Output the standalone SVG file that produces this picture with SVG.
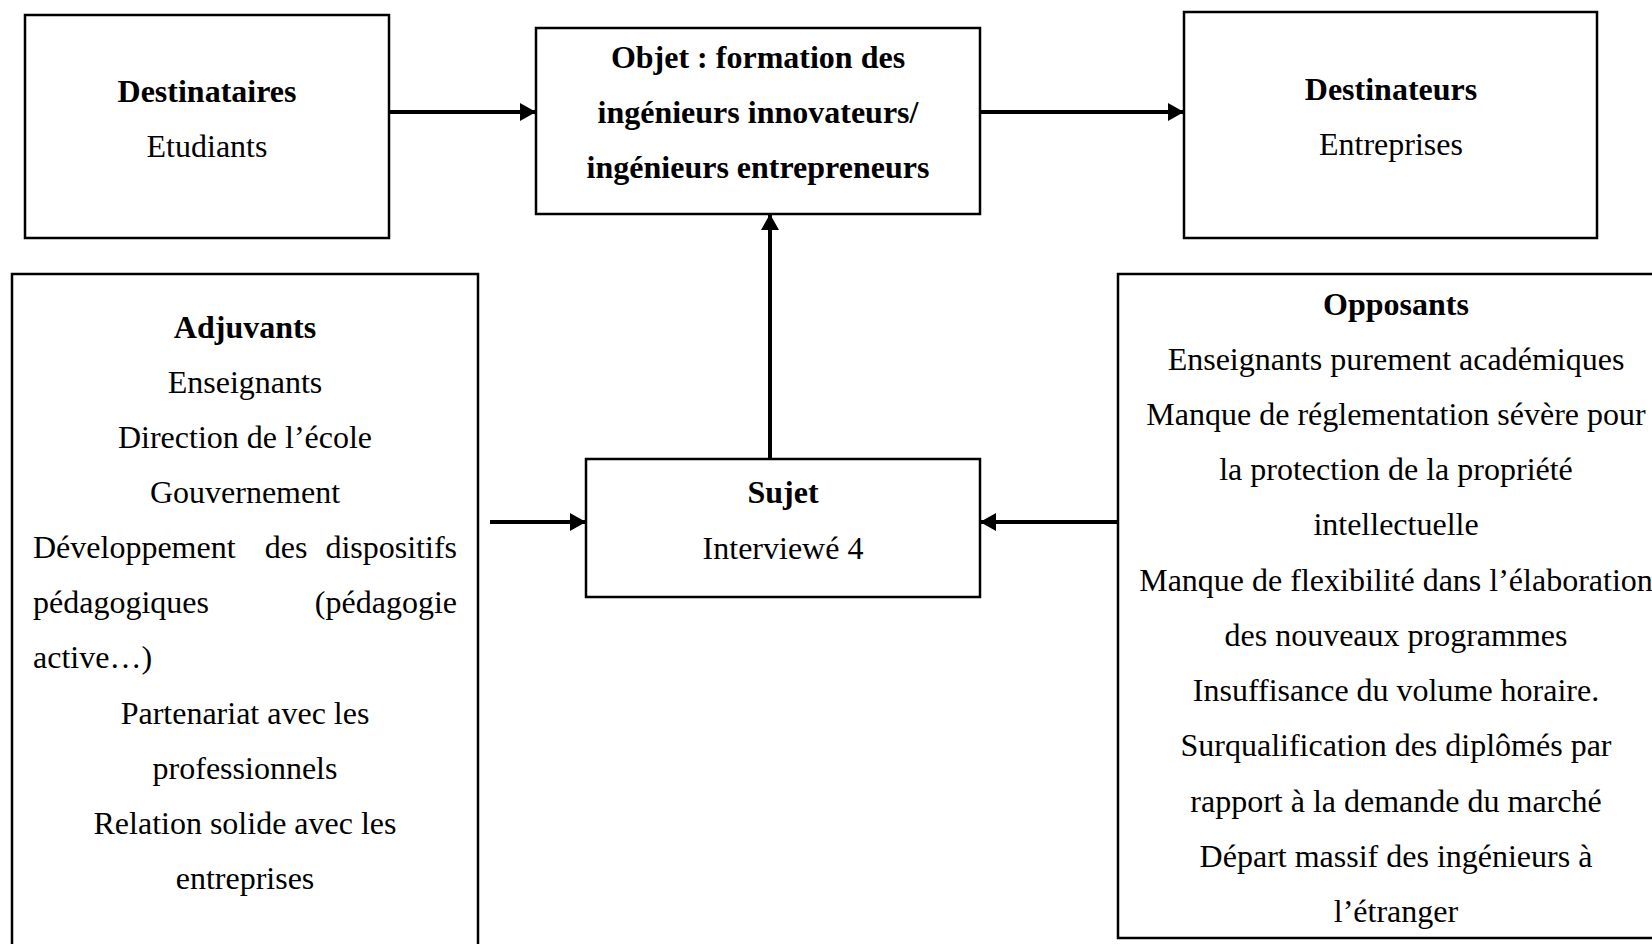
<svg xmlns="http://www.w3.org/2000/svg" width="1652" height="944" viewBox="0 0 1652 944">
<defs>
<marker id="ah" markerUnits="userSpaceOnUse" markerWidth="16" markerHeight="18" refX="16" refY="9" orient="auto">
<path d="M0,0 L16,9 L0,18 Z" fill="#000"/>
</marker>
<style>
.box{fill:#fff;stroke:#000;stroke-width:2.5}
.t{font-family:"Liberation Serif","Times New Roman",serif;font-size:32px;fill:#000;text-anchor:middle}
.b{font-weight:bold}
.l{text-anchor:start}
.e{text-anchor:end}
.c{fill:none;stroke:#000;stroke-width:4;marker-end:url(#ah)}
</style>
</defs>
<rect width="1652" height="944" fill="#fff"/>
<g id="connectors">
<line class="c" x1="389" y1="112" x2="536" y2="112"/>
<line class="c" x1="980" y1="112" x2="1184" y2="112"/>
<line class="c" x1="770" y1="459" x2="770" y2="214"/>
<line class="c" x1="490" y1="522" x2="586" y2="522"/>
<line class="c" x1="1118" y1="522" x2="980" y2="522"/>
</g>
<g id="destinataires">
<rect class="box" x="25" y="15" width="364" height="223"/>
<text class="t b" x="207" y="102">Destinataires</text>
<text class="t" x="207" y="157">Etudiants</text>
</g>
<g id="objet">
<rect class="box" x="536" y="28" width="444" height="186"/>
<text class="t b" x="758" y="68">Objet : formation des</text>
<text class="t b" x="758" y="123">ingénieurs innovateurs/</text>
<text class="t b" x="758" y="178">ingénieurs entrepreneurs</text>
</g>
<g id="destinateurs">
<rect class="box" x="1184" y="12" width="413" height="226"/>
<text class="t b" x="1391" y="100">Destinateurs</text>
<text class="t" x="1391" y="155">Entreprises</text>
</g>
<g id="adjuvants">
<rect class="box" x="12" y="274" width="466" height="690"/>
<text class="t b" x="245" y="338">Adjuvants</text>
<text class="t" x="245" y="393">Enseignants</text>
<text class="t" x="245" y="448">Direction de l’école</text>
<text class="t" x="245" y="503">Gouvernement</text>
<text class="t l" x="33" y="558">Développement</text>
<text class="t" x="286" y="558">des</text>
<text class="t e" x="457" y="558">dispositifs</text>
<text class="t l" x="33" y="613">pédagogiques</text>
<text class="t e" x="457" y="613">(pédagogie</text>
<text class="t l" x="33" y="668">active…)</text>
<text class="t" x="245" y="724">Partenariat avec les</text>
<text class="t" x="245" y="779">professionnels</text>
<text class="t" x="245" y="834">Relation solide avec les</text>
<text class="t" x="245" y="889">entreprises</text>
</g>
<g id="sujet">
<rect class="box" x="586" y="459" width="394" height="138"/>
<text class="t b" x="783" y="503">Sujet</text>
<text class="t" x="783" y="559">Interviewé 4</text>
</g>
<g id="opposants">
<rect class="box" x="1118" y="274" width="560" height="664"/>
<text class="t b" x="1396" y="315">Opposants</text>
<text class="t" x="1396" y="370">Enseignants purement académiques</text>
<text class="t" x="1396" y="425">Manque de réglementation sévère pour</text>
<text class="t" x="1396" y="480">la protection de la propriété</text>
<text class="t" x="1396" y="535">intellectuelle</text>
<text class="t" x="1396" y="591">Manque de flexibilité dans l’élaboration</text>
<text class="t" x="1396" y="646">des nouveaux programmes</text>
<text class="t" x="1396" y="701">Insuffisance du volume horaire.</text>
<text class="t" x="1396" y="756">Surqualification des diplômés par</text>
<text class="t" x="1396" y="812">rapport à la demande du marché</text>
<text class="t" x="1396" y="867">Départ massif des ingénieurs à</text>
<text class="t" x="1396" y="922">l’étranger</text>
</g>
</svg>
